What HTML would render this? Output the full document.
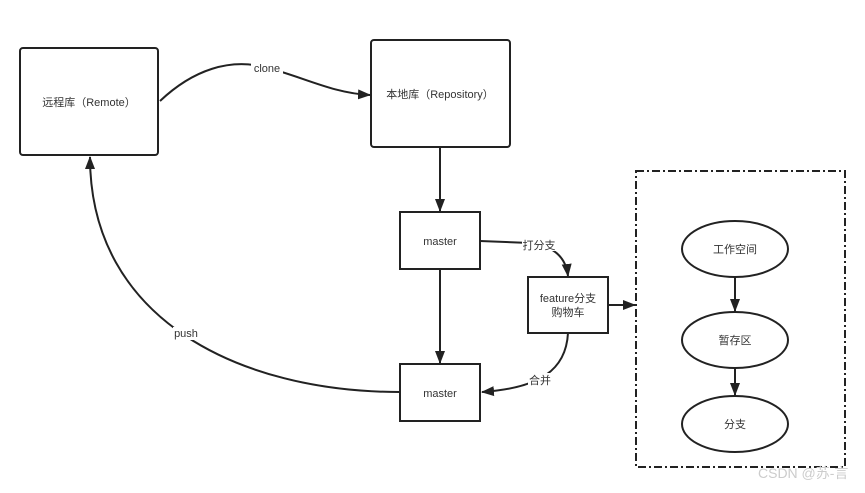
<!DOCTYPE html>
<html><head><meta charset="utf-8"><style>
body{margin:0;background:#fff;}
svg text{font-family:"Liberation Sans","Noto Sans CJK SC",sans-serif;font-size:11px;fill:#333;}
</style></head><body>
<svg width="865" height="488" viewBox="0 0 865 488" xmlns="http://www.w3.org/2000/svg">
<defs><marker id="a" markerWidth="14" markerHeight="12" refX="12" refY="6" orient="auto" markerUnits="userSpaceOnUse"><path d="M0,1 L13,6 L0,11 Z" fill="#222"/></marker></defs>
<g fill="#fff" stroke="#222" stroke-width="2">
<rect x="20" y="48" width="138" height="107" rx="3"/>
<rect x="371" y="40" width="139" height="107" rx="3"/>
<rect x="400" y="212" width="80" height="57"/>
<rect x="528" y="277" width="80" height="56"/>
<rect x="400" y="364" width="80" height="57"/>
<rect x="636" y="171" width="209" height="296" fill="none" stroke-dasharray="8,3,2,3"/>
<ellipse cx="735" cy="249" rx="53" ry="28"/>
<ellipse cx="735" cy="340" rx="53" ry="28"/>
<ellipse cx="735" cy="424" rx="53" ry="28"/>
</g>
<g fill="none" stroke="#222" stroke-width="2" marker-end="url(#a)">
<path d="M160,101 C195,68 230,60 260,66 C300,75 330,93 370,95"/>
<path d="M440,147 L440,211"/>
<path d="M440,269 L440,363"/>
<path d="M480,241 L530,243 C555,246 566,258 568,276"/>
<path d="M608,305 L635,305"/>
<path d="M568,333 C566,370 540,388 482,392"/>
<path d="M400,392 C240,392 90,320 90,157"/>
<path d="M735,277 L735,311"/>
<path d="M735,368 L735,395"/>
</g>
<g fill="#fff">
<rect x="251" y="62" width="32" height="12"/>
<rect x="522" y="238" width="34" height="13"/>
<rect x="528" y="373" width="24" height="13"/>
<rect x="173" y="327" width="27" height="13"/>
</g>
<g text-anchor="middle">
<text x="89" y="106">远程库（Remote）</text>
<text x="440" y="98">本地库（Repository）</text>
<text x="267" y="72">clone</text>
<text x="440" y="245">master</text>
<text x="539" y="249">打分支</text>
<text x="568" y="302">feature分支</text>
<text x="568" y="316">购物车</text>
<text x="540" y="384">合并</text>
<text x="440" y="397">master</text>
<text x="186" y="337">push</text>
<text x="735" y="253">工作空间</text>
<text x="735" y="344">暂存区</text>
<text x="735" y="428">分支</text>
</g>
<text x="758" y="478" style="font-size:14px;fill:#ccc">CSDN @苏-言</text>
</svg>
</body></html>
